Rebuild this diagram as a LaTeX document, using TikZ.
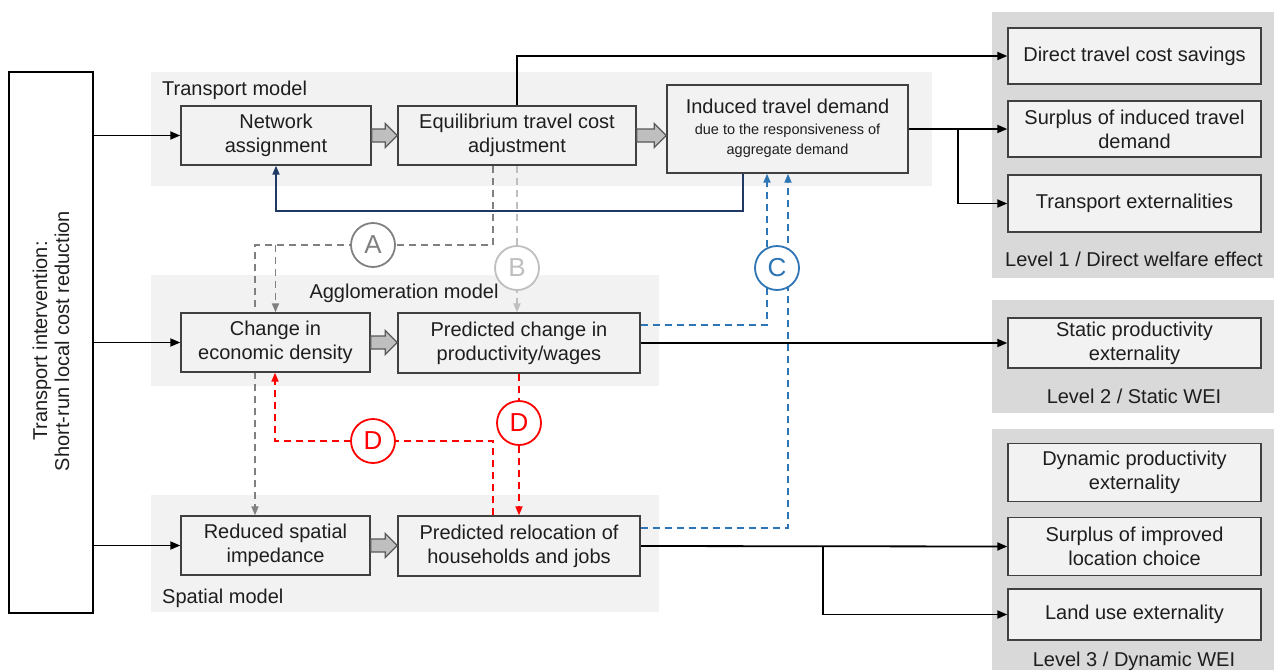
\documentclass[tikz,border=0pt]{standalone}
\usepackage{fontspec}
\setmainfont{Liberation Sans}
\usetikzlibrary{arrows.meta,calc}
\pgfdeclarelayer{panels}
\pgfdeclarelayer{lines}
\pgfsetlayers{panels,lines,main}
\definecolor{panelbg}{HTML}{F2F2F2}
\definecolor{lvlbg}{HTML}{D9D9D9}
\definecolor{boxfill}{HTML}{F2F2F2}
\definecolor{boxline}{HTML}{404040}
\definecolor{arrfill}{HTML}{BFBFBF}
\definecolor{arrline}{HTML}{595959}
\definecolor{navyc}{HTML}{1F3864}
\definecolor{colA}{HTML}{808080}
\definecolor{colB}{HTML}{BFBFBF}
\definecolor{colC}{HTML}{2E75B6}
\definecolor{colD}{HTML}{FF0000}
\definecolor{txt}{HTML}{1E1E1E}
\newcommand\blockarrowdraw[2]{%
  \draw[blockarr] let \p1=(#1), \p2=(#2) in
    (\x1,\y1+6.5pt) -- (\x2-12pt,\y1+6.5pt) -- (\x2-12pt,\y1+12pt) -- (\x2,\y1)
    -- (\x2-12pt,\y1-12pt) -- (\x2-12pt,\y1-6.5pt) -- (\x1,\y1-6.5pt) -- cycle;}
\begin{document}
\begin{tikzpicture}[x=1pt,y=-1pt,
  font=\fontsize{20}{24}\selectfont, text=txt,
  box/.style={draw=boxline, fill=boxfill, line width=1.4pt, align=center, inner sep=2pt},
  conn/.style={line width=1.8pt, draw=black, -{Triangle[length=10pt,width=8pt]}},
  dline/.style={line width=1.8pt, dash pattern=on 7pt off 5pt},
  dtip/.style={-{Triangle[length=9pt,width=7pt]}},
  circ/.style={circle, draw, line width=1.8pt, fill=white, minimum size=44pt, inner sep=0pt, font=\fontsize{26}{26}\selectfont},
  blockarr/.style={draw=arrline, fill=arrfill, line width=1.3pt, line join=miter},
  lbl/.style={inner sep=0pt}
]
\useasboundingbox (0,0) rectangle (1274,670);

% panels
\begin{pgfonlayer}{panels}
\fill[panelbg] (151,72) rectangle (932,186);
\fill[panelbg] (151,275) rectangle (659,386);
\fill[panelbg] (151,495) rectangle (659,612);
\fill[lvlbg] (992,12) rectangle (1274,278);
\fill[lvlbg] (992,300) rectangle (1274,413);
\fill[lvlbg] (992,429) rectangle (1274,670);
\end{pgfonlayer}

% panel labels
\node[lbl, anchor=west] (tmodel) at (162,90) {Transport model};
\node[lbl] (amodel) at (404,293) {Agglomeration model};
\node[lbl, anchor=west] (smodel) at (162,598) {Spatial model};
\node[lbl] (lvl1) at (1134,259) {Level 1 / Direct welfare effect};
\node[lbl] (lvl2) at (1134,396) {Level 2 / Static WEI};
\node[lbl] (lvl3) at (1134,661) {Level 3 / Dynamic WEI};

% left box
\node[draw=black, fill=white, line width=1.4pt, minimum width=84pt, minimum height=541pt] (left) at (51,342.5) {};
\node[rotate=90, align=center, inner sep=0pt, font=\fontsize{20}{22}\selectfont] (lefttxt) at (51,341) {Transport intervention:\\Short-run local cost reduction};

% model boxes
\node[box, minimum width=190pt, minimum height=59pt] (net) at (276,135.5) {Network\\assignment};
\node[box, minimum width=238pt, minimum height=59pt] (equ) at (517,135.5) {Equilibrium travel cost\\adjustment};
\node[box, minimum width=241pt, minimum height=88pt] (ind) at (787.5,129) {\begin{tabular}{@{}c@{}}Induced travel demand\\[-3pt]{\fontsize{14.5}{17}\selectfont due to the responsiveness of}\\[-4pt]{\fontsize{14.5}{17}\selectfont aggregate demand}\end{tabular}};
\node[box, minimum width=189pt, minimum height=59pt] (chg) at (275.5,342.5) {Change in\\economic density};
\node[box, minimum width=242pt, minimum height=60pt] (prd) at (519,343) {Predicted change in\\productivity/wages};
\node[box, minimum width=189pt, minimum height=59pt] (red) at (275.5,545.5) {Reduced spatial\\impedance};
\node[box, minimum width=242pt, minimum height=60pt] (rel) at (519,546) {Predicted relocation of\\households and jobs};

% result boxes
\node[box, minimum width=253pt, minimum height=56pt] (r1) at (1134.5,56) {Direct travel cost savings};
\node[box, minimum width=253pt, minimum height=56pt] (r2) at (1134.5,129) {Surplus of induced travel\\demand};
\node[box, minimum width=253pt, minimum height=57pt] (r3) at (1134.5,203.5) {Transport externalities};
\node[box, minimum width=253pt, minimum height=50pt] (r4) at (1134.5,343) {Static productivity\\externality};
\node[box, minimum width=253pt, minimum height=58pt] (r5) at (1134.5,472.5) {Dynamic productivity\\externality};
\node[box, minimum width=253pt, minimum height=58pt] (r6) at (1134.5,546.5) {Surplus of improved\\location choice};
\node[box, minimum width=253pt, minimum height=51pt] (r7) at (1134.5,614.5) {Land use externality};

% block arrows
\blockarrowdraw{net.east}{equ.west}
\blockarrowdraw{equ.east}{equ.east -| ind.west}
\blockarrowdraw{chg.east}{chg.east -| prd.west}
\blockarrowdraw{red.east}{red.east -| rel.west}

% coordinates
\coordinate (b1) at (958,129);
\coordinate (b2) at (823,546);
\coordinate (Ac) at (255,245);
\coordinate (Dc) at (275,441);

% circles
\node[circ, draw=colA, text=colA] (cA) at (373,245) {A};
\node[circ, draw=colB, text=colB] (cB) at (517,268) {B};
\node[circ, draw=colC, text=colC] (cC) at (777,268) {C};
\node[circ, draw=colD, text=colD] (cD1) at (373,441) {D};
\node[circ, draw=colD, text=colD] (cD2) at (519,423) {D};

\begin{pgfonlayer}{lines}
% inputs
\draw[conn] (left.east |- net.west) -- (net.west);
\draw[conn] (left.east |- chg.west) -- (chg.west);
\draw[conn] (left.east |- red.west) -- (red.west);
% outputs
\draw[conn] (equ.north) |- (r1.west);
\draw[conn] (ind.east) -- (r2.west);
\draw[conn] (b1) |- (r3.west);
\draw[conn] (prd.east) -- (r4.west);
\draw[conn] (rel.east) -- (r6.west);
\draw[conn] (b2) |- (r7.west);
% navy feedback
\draw[line width=1.9pt, navyc, -{Triangle[length=9pt,width=7pt]}] ([xshift=-44.5pt]ind.south) -- ++(0,37) -| (net.south);
% A
\draw[dline, colA, dtip] ([xshift=-24pt]equ.south) |- (Ac) -- (Ac |- red.north);
\draw[dline, colA, dtip] (Ac -| chg.north) -- (chg.north);
% B
\draw[dline, colB, dtip] (equ.south) -- (equ.south |- prd.north);
% C
\draw[dline, colC, dtip] ([yshift=18pt]prd.east) -| ([xshift=-20.5pt]ind.south);
\draw[dline, colC, dtip] ([yshift=18pt]rel.east) -| ([xshift=0.5pt]ind.south);
% D
\draw[dline, colD, dtip] (prd.south) -- (prd.south |- rel.north);
\draw[dline, colD, dtip] ([xshift=-26pt]rel.north) |- (Dc) -- (Dc |- chg.south);
\end{pgfonlayer}
\end{tikzpicture}
\end{document}
